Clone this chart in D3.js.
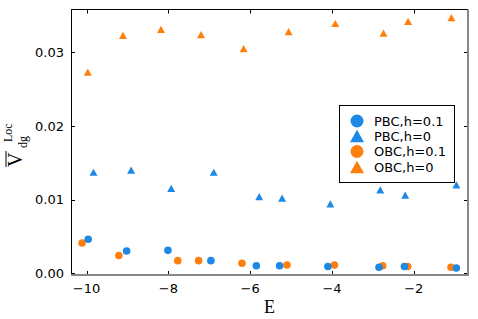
<!DOCTYPE html>
<html>
<head>
<meta charset="utf-8">
<script src="https://cdn.jsdelivr.net/npm/d3@7"></script>
<style>
  body { margin: 0; background: #fff; }
  svg text { font-family: "DejaVu Sans", sans-serif; }
</style>
</head>
<body>
<div id="chart"></div>
<script>
// ------- Data -------
const energyPbcH01 = [-9.96, -9.02, -8.01, -6.96, -5.85, -5.28, -4.10, -2.85, -2.23, -0.96];
const pbcH01 = [0.0046, 0.0030, 0.0031, 0.0017, 0.0010, 0.0010, 0.0009, 0.0008, 0.0009, 0.0007];

const energyPbcH0 = [-9.83, -8.91, -7.93, -6.89, -5.78, -5.22, -4.04, -2.82, -2.21, -0.96];
const pbcH0 = [0.0137, 0.0140, 0.0115, 0.0137, 0.0104, 0.0102, 0.0094, 0.0113, 0.0106, 0.0120];

const energyObcH01 = [-10.11, -9.21, -7.77, -7.26, -6.20, -5.10, -3.94, -2.76, -2.15, -1.09];
const obcH01 = [0.0041, 0.0024, 0.0017, 0.0017, 0.00135, 0.0011, 0.0011, 0.0010, 0.0009, 0.0008];

const energyObcH0 = [-9.97, -9.11, -8.18, -7.20, -6.16, -5.06, -3.92, -2.74, -2.14, -1.08];
const obcH0 = [0.0273, 0.0323, 0.0331, 0.0324, 0.0305, 0.0328, 0.0339, 0.0326, 0.0342, 0.0347];

const xTicks = [-10, -8, -6, -4, -2];
const yTicks = [0.00, 0.01, 0.02, 0.03];

const legendLabels = ["PBC,h=0.1", "PBC,h=0", "OBC,h=0.1", "OBC,h=0"];

// ------- Chart Setup -------
const W = 478, H = 319;
const plot = { left: 71, right: 468, top: 9.5, bottom: 275 };

const blue = "#1e88e5";
const orange = "#ff7f0e";
const serif = "'Liberation Serif', 'DejaVu Serif', serif";

const svg = d3.select("#chart")
  .append("svg")
  .attr("width", W)
  .attr("height", H);

const x = d3.scaleLinear()
  .domain([-10.38, -0.675])
  .range([plot.left, plot.right]);

const y = d3.scaleLinear()
  .domain([-0.00025, 0.0358])
  .range([plot.bottom, plot.top]);

// triangle marker centred on its bounding box (like matplotlib "^")
function triPath(s) {
  const h = s * 0.9;
  return `M0,${-h / 2}L${s / 2},${h / 2}L${-s / 2},${h / 2}Z`;
}

// ------- Ticks (inward, all four sides) -------
const tickLen = 4;
const ticks = svg.append("g").attr("stroke", "#000").attr("stroke-width", 1);

xTicks.forEach(t => {
  const px = Math.round(x(t)) + 0.5;
  ticks.append("line").attr("x1", px).attr("x2", px)
    .attr("y1", plot.bottom).attr("y2", plot.bottom - tickLen);
  ticks.append("line").attr("x1", px).attr("x2", px)
    .attr("y1", plot.top).attr("y2", plot.top + tickLen);
  svg.append("text")
    .attr("x", x(t))
    .attr("y", 293)
    .attr("text-anchor", "middle")
    .attr("font-size", 13)
    .text(d3.format("")(t).replace("-", "\u2212"));
});

yTicks.forEach(t => {
  const py = Math.round(y(t)) + 0.5;
  ticks.append("line").attr("x1", plot.left).attr("x2", plot.left + tickLen)
    .attr("y1", py).attr("y2", py);
  ticks.append("line").attr("x1", plot.right).attr("x2", plot.right - tickLen)
    .attr("y1", py).attr("y2", py);
  svg.append("text")
    .attr("x", 64)
    .attr("y", y(t))
    .attr("dy", "0.36em")
    .attr("text-anchor", "end")
    .attr("font-size", 13)
    .text(d3.format(".2f")(t));
});

// ------- Frame -------
svg.append("line").attr("x1", plot.left + 0.5).attr("x2", plot.left + 0.5)
  .attr("y1", plot.top).attr("y2", plot.bottom).attr("stroke", "#000");
svg.append("line").attr("x1", plot.left).attr("x2", plot.right)
  .attr("y1", plot.top).attr("y2", plot.top).attr("stroke", "#000");
svg.append("line").attr("x1", plot.right).attr("x2", plot.right)
  .attr("y1", plot.top).attr("y2", plot.bottom + 1)
  .attr("stroke", "#888").attr("stroke-width", 2);
svg.append("line").attr("x1", plot.left).attr("x2", plot.right + 1)
  .attr("y1", plot.bottom).attr("y2", plot.bottom)
  .attr("stroke", "#888").attr("stroke-width", 2);

// ------- Markers -------
function circles(xs, ys, color) {
  svg.append("g").selectAll("circle")
    .data(d3.zip(xs, ys))
    .join("circle")
    .attr("cx", d => x(d[0]))
    .attr("cy", d => y(d[1]))
    .attr("r", 3.8)
    .attr("fill", color);
}

function triangles(xs, ys, color) {
  svg.append("g").selectAll("path")
    .data(d3.zip(xs, ys))
    .join("path")
    .attr("transform", d => `translate(${x(d[0])},${y(d[1])})`)
    .attr("d", triPath(8))
    .attr("fill", color);
}

triangles(energyPbcH0, pbcH0, blue);
triangles(energyObcH0, obcH0, orange);
circles(energyObcH01, obcH01, orange);
circles(energyPbcH01, pbcH01, blue);

// ------- Axis labels -------
svg.append("text")
  .attr("x", (plot.left + plot.right) / 2)
  .attr("y", 313)
  .attr("text-anchor", "middle")
  .attr("font-size", 18)
  .style("font-family", serif)
  .text("E");

// V with overline, superscript Loc, subscript dg (rotated)
const yl = svg.append("g")
  .attr("transform", "translate(22,167) rotate(-90)");
yl.append("text").attr("x", 0).attr("y", 0).attr("font-size", 20)
  .style("font-family", serif).text("V");
yl.append("line").attr("x1", 0).attr("x2", 16).attr("y1", -16).attr("y2", -16)
  .attr("stroke", "#000").attr("stroke-width", 1);
yl.append("text").attr("x", 25).attr("y", -10).attr("font-size", 12)
  .style("font-family", serif).text("Loc");
yl.append("text").attr("x", 19).attr("y", 5).attr("font-size", 12)
  .style("font-family", serif).text("dg");

// ------- Legend -------
const legend = svg.append("g");
legend.append("rect")
  .attr("x", 339.5).attr("y", 105.5)
  .attr("width", 115).attr("height", 77)
  .attr("fill", "#fff").attr("stroke", "#000");

const rowY = [121, 136, 151.5, 167];
const legendColors = [blue, blue, orange, orange];
const legendShapes = ["circle", "tri", "circle", "tri"];

legendLabels.forEach((label, i) => {
  if (legendShapes[i] === "circle") {
    legend.append("circle")
      .attr("cx", 357).attr("cy", rowY[i]).attr("r", 6.5)
      .attr("fill", legendColors[i]);
  } else {
    legend.append("path")
      .attr("transform", `translate(357,${rowY[i]})`)
      .attr("d", triPath(14))
      .attr("fill", legendColors[i]);
  }
  legend.append("text")
    .attr("x", 374)
    .attr("y", rowY[i])
    .attr("dy", "0.36em")
    .attr("font-size", 13)
    .text(label);
});
</script>
</body>
</html>
